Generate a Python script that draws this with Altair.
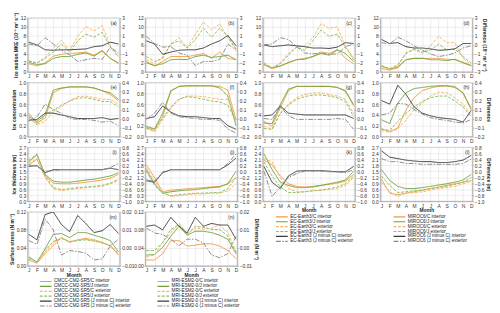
import altair as alt
import pandas as pd

MONTHS = ["J", "F", "M", "A", "M", "J", "J", "A", "S", "O", "N", "D"]
MODELS = ["CMCC-CM2-SR5", "MRI-ESM2-0", "EC-Earth3", "MIROC6"]
SUFFIXES = ["/C interior", "/J interior", "/C exterior", "/J exterior",
            " (J minus C) interior", " (J minus C) exterior"]
LETTERS = ["a", "b", "c", "d", "e", "f", "g", "h", "i", "j", "k", "l", "m", "n"]
LEFT_TITLES = ["Ice motion MKE (10⁻³ m² s⁻²)", "Ice concentration", "Ice thickness (m)", "Surface stress (N m⁻²)"]
RIGHT_TITLES = ["Difference (10⁻³ m² s⁻²)", "Difference", "Difference (m)", "Difference (N m⁻²)"]
LEFT_TICKS = [[0, 2, 4, 6, 8, 10, 12], [0.0, 0.2, 0.4, 0.6, 0.8, 1.0],
              [0.0, 0.3, 0.6, 0.9, 1.2, 1.5, 1.8, 2.1, 2.4, 2.7], [0.0, 0.04, 0.08, 0.12]]
RIGHT_TICKS = [[-3, -2, -1, 0, 1, 2, 3], [-0.2, -0.1, 0.0, 0.1, 0.2, 0.3, 0.4],
               [-1.0, -0.8, -0.6, -0.4, -0.2, 0.0, 0.2, 0.4, 0.6, 0.8], [-0.01, 0.0, 0.01, 0.02]]

# ---- panel (a) CMCC MKE
a_c_int = [1.8, 1.3, 2.0, 3.5, 3.9, 4.1, 4.2, 4.4, 3.7, 4.8, 3.0, 1.8]
a_j_int = [2.1, 1.6, 1.8, 3.0, 3.4, 3.4, 3.9, 4.2, 3.5, 4.6, 3.0, 2.0]
a_c_ext = [2.5, 2.0, 3.2, 5.3, 7.0, 4.8, 7.9, 10.1, 9.1, 10.3, 5.7, 3.4]
a_j_ext = [2.4, 1.9, 3.0, 4.4, 6.2, 4.4, 6.9, 8.4, 7.7, 8.8, 5.5, 3.4]
a_d_int = [0.3, 0.0, -0.55, -0.6, -0.55, -0.55, -0.5, -0.45, -0.2, -0.1, 0.3, 0.1]
a_d_ext = [0.1, -0.1, 0.8, 0.1, -0.6, -1.1, -1.85, -1.65, -1.5, -1.6, -0.25, -0.9]
# ---- panel (b) MRI MKE
b_c_int = [2.3, 1.3, 2.3, 3.4, 3.4, 3.4, 3.7, 4.1, 3.0, 4.4, 3.0, 2.7]
b_j_int = [2.0, 1.4, 1.8, 2.7, 2.8, 2.7, 3.4, 3.7, 3.2, 3.4, 3.7, 2.7]
b_c_ext = [2.7, 1.8, 3.4, 6.2, 7.6, 5.5, 8.3, 11.1, 9.3, 10.7, 7.6, 4.8]
b_j_ext = [3.4, 2.3, 3.0, 6.2, 6.9, 5.3, 7.2, 9.7, 7.7, 9.7, 7.9, 5.1]
b_d_int = [0.45, 0.1, -1.05, -0.8, -0.6, -0.55, -0.55, -0.35, 0.1, 0.45, 1.05, -0.1]
b_d_ext = [0.95, 0.15, -0.25, -0.2, -0.9, -1.15, -2.3, -1.85, -1.85, -1.6, 0.1, -0.6]
# ---- panel (c) EC-Earth MKE
c_c_int = [1.6, 0.7, 1.3, 2.0, 2.7, 3.0, 3.4, 4.4, 4.1, 4.9, 3.0, 1.8]
c_j_int = [1.6, 0.9, 1.3, 2.1, 2.7, 2.8, 3.4, 4.1, 3.7, 4.9, 4.1, 2.3]
c_c_ext = [1.6, 0.7, 2.0, 4.1, 5.5, 5.8, 7.6, 10.7, 9.7, 10.0, 5.8, 3.0]
c_j_ext = [2.0, 0.9, 1.8, 3.7, 5.5, 4.8, 6.9, 9.3, 7.9, 8.4, 5.5, 2.7]
c_d_int = [0.0, -0.2, -0.1, 0.0, -0.1, -0.2, -0.35, -0.35, -0.4, -0.25, 0.25, 0.15]
c_d_ext = [0.0, 0.1, 0.8, 0.6, -0.2, -0.9, -1.0, -0.9, -1.05, -1.0, -0.2, 0.1]
# ---- panel (d) MIROC MKE
d_c_int = [0.7, 0.4, 0.9, 2.7, 3.0, 3.0, 3.0, 3.0, 2.8, 2.7, 2.0, 1.3]
d_j_int = [1.3, 0.6, 1.1, 2.7, 3.0, 3.0, 2.7, 2.7, 2.5, 2.8, 2.1, 1.4]
d_c_ext = [0.9, 0.6, 1.3, 4.2, 4.9, 4.1, 5.8, 7.9, 6.5, 6.5, 3.0, 1.6]
d_j_ext = [1.4, 0.7, 1.6, 4.1, 5.1, 4.4, 4.8, 6.2, 4.9, 5.1, 3.4, 2.0]
d_d_int = [0.6, 0.15, 0.25, -0.2, -0.35, -0.35, -0.45, -0.6, -0.55, -0.45, 0.15, 0.15]
d_d_ext = [0.25, 0.1, 0.85, 0.45, -0.1, -0.6, -1.0, -1.3, -1.15, -0.9, -0.35, -0.1]
# ---- panel (e) CMCC concentration
e_c_int = [0.43, 0.25, 0.34, 0.81, 0.89, 0.92, 0.92, 0.92, 0.90, 0.85, 0.78, 0.66]
e_j_int = [0.37, 0.28, 0.40, 0.86, 0.90, 0.92, 0.92, 0.92, 0.90, 0.85, 0.81, 0.69]
e_c_ext = [0.40, 0.22, 0.28, 0.46, 0.55, 0.66, 0.74, 0.75, 0.72, 0.69, 0.69, 0.60]
e_j_ext = [0.34, 0.22, 0.40, 0.49, 0.58, 0.66, 0.71, 0.72, 0.69, 0.65, 0.65, 0.55]
e_d_int = [-0.02, -0.01, 0.06, 0.06, 0.04, 0.02, 0.0, 0.0, 0.0, 0.01, -0.01, 0.0]
e_d_ext = [-0.03, 0.02, 0.16, 0.10, 0.06, 0.0, -0.01, -0.01, -0.02, -0.04, -0.03, -0.08]
# ---- panel (f) MRI concentration
f_c_int = [0.16, 0.11, 0.37, 0.84, 0.93, 0.94, 0.94, 0.94, 0.94, 0.93, 0.86, 0.30]
f_j_int = [0.19, 0.14, 0.43, 0.85, 0.93, 0.94, 0.94, 0.94, 0.94, 0.90, 0.75, 0.20]
f_c_ext = [0.15, 0.08, 0.31, 0.52, 0.69, 0.75, 0.75, 0.74, 0.71, 0.69, 0.69, 0.31]
f_j_ext = [0.16, 0.14, 0.34, 0.55, 0.69, 0.74, 0.72, 0.69, 0.66, 0.64, 0.58, 0.28]
f_d_int = [0.0, 0.02, 0.14, 0.07, 0.03, 0.02, 0.02, 0.01, 0.0, 0.0, -0.08, -0.12]
f_d_ext = [-0.01, 0.06, 0.18, 0.06, 0.02, 0.01, 0.0, -0.01, -0.01, -0.02, -0.12, -0.16]
# ---- panel (g) EC-Earth concentration
g_c_int = [0.28, 0.19, 0.53, 0.85, 0.93, 0.93, 0.93, 0.93, 0.93, 0.91, 0.84, 0.57]
g_j_int = [0.25, 0.24, 0.59, 0.88, 0.93, 0.93, 0.93, 0.93, 0.93, 0.91, 0.85, 0.59]
g_c_ext = [0.19, 0.14, 0.43, 0.60, 0.72, 0.78, 0.81, 0.81, 0.78, 0.75, 0.69, 0.43]
g_j_ext = [0.15, 0.13, 0.43, 0.58, 0.69, 0.74, 0.77, 0.77, 0.75, 0.72, 0.65, 0.37]
g_d_int = [0.03, 0.04, 0.14, 0.06, 0.05, 0.04, 0.04, 0.04, 0.04, 0.04, 0.04, 0.0]
g_d_ext = [0.0, -0.01, 0.13, 0.03, -0.01, -0.01, -0.01, -0.01, -0.01, 0.0, -0.01, -0.12]
# ---- panel (h) MIROC concentration
h_c_int = [0.14, 0.09, 0.16, 0.49, 0.72, 0.85, 0.90, 0.93, 0.94, 0.93, 0.81, 0.49]
h_j_int = [0.31, 0.24, 0.62, 0.81, 0.89, 0.91, 0.93, 0.94, 0.94, 0.91, 0.81, 0.52]
h_c_ext = [0.11, 0.08, 0.14, 0.31, 0.49, 0.62, 0.75, 0.82, 0.81, 0.72, 0.60, 0.40]
h_j_ext = [0.14, 0.11, 0.28, 0.43, 0.55, 0.65, 0.72, 0.75, 0.75, 0.66, 0.55, 0.37]
h_d_int = [0.20, 0.16, 0.37, 0.27, 0.13, 0.06, 0.03, 0.01, 0.0, -0.01, -0.04, 0.09]
h_d_ext = [0.04, 0.06, 0.17, 0.16, 0.10, 0.05, 0.01, -0.01, -0.02, -0.04, -0.05, -0.01]
# ---- panel (i) CMCC thickness
i_c_int = [1.82, 2.10, 1.26, 0.90, 0.87, 0.87, 0.90, 0.95, 1.00, 1.06, 1.15, 1.34]
i_j_int = [1.97, 2.32, 1.34, 1.00, 0.95, 0.95, 1.00, 1.06, 1.10, 1.18, 1.26, 1.42]
i_c_ext = [1.90, 2.13, 1.18, 0.63, 0.52, 0.58, 0.63, 0.68, 0.71, 0.74, 0.87, 1.03]
i_j_ext = [2.05, 2.37, 1.26, 0.68, 0.58, 0.63, 0.68, 0.71, 0.74, 0.79, 0.90, 1.10]
i_d_int = [0.16, 0.19, -0.05, 0.05, 0.05, 0.05, 0.05, 0.05, 0.05, 0.05, 0.10, 0.05]
i_d_ext = [0.21, 0.16, 0.0, 0.02, 0.05, 0.05, 0.05, 0.05, 0.05, 0.05, 0.12, 0.26]
# ---- panel (j) MRI thickness
j_c_int = [1.82, 1.18, 0.47, 0.55, 0.58, 0.62, 0.65, 0.68, 0.71, 0.74, 0.87, 1.18]
j_j_int = [1.58, 0.87, 0.40, 0.47, 0.52, 0.55, 0.58, 0.63, 0.68, 0.71, 0.87, 1.50]
j_c_ext = [1.66, 1.03, 0.43, 0.24, 0.27, 0.32, 0.36, 0.36, 0.40, 0.40, 0.52, 0.87]
j_j_ext = [1.50, 0.79, 0.40, 0.27, 0.32, 0.36, 0.40, 0.40, 0.43, 0.43, 0.63, 1.18]
j_d_int = [-0.32, -0.37, -0.05, 0.05, 0.05, 0.05, 0.05, 0.05, 0.05, 0.05, 0.21, 0.44]
j_d_ext = [-0.29, -0.34, -0.02, 0.05, 0.05, 0.05, 0.05, 0.05, 0.05, 0.05, 0.26, 0.58]
# ---- panel (k) EC-Earth thickness
k_c_int = [2.05, 1.82, 1.26, 0.87, 0.74, 0.71, 0.74, 0.79, 0.84, 0.90, 1.00, 1.34]
k_j_int = [2.37, 1.58, 0.95, 0.79, 0.68, 0.68, 0.71, 0.79, 0.87, 0.95, 1.06, 1.50]
k_c_ext = [2.13, 1.97, 1.18, 0.63, 0.47, 0.47, 0.52, 0.55, 0.58, 0.63, 0.79, 1.18]
k_j_ext = [1.97, 1.26, 0.71, 0.43, 0.43, 0.47, 0.52, 0.55, 0.63, 0.71, 0.87, 1.26]
k_d_int = [0.16, -0.37, -0.58, -0.16, 0.0, 0.02, 0.02, 0.02, 0.0, -0.02, -0.02, 0.16]
k_d_ext = [0.0, -0.84, -0.53, -0.21, -0.08, 0.0, 0.0, 0.0, -0.02, -0.02, -0.05, 0.05]
# ---- panel (l) MIROC thickness
l_c_int = [1.10, 0.40, 0.32, 0.40, 0.47, 0.55, 0.63, 0.71, 0.79, 0.87, 0.95, 1.03]
l_j_int = [1.58, 1.03, 0.74, 0.63, 0.63, 0.68, 0.74, 0.81, 0.87, 0.95, 1.06, 1.34]
l_c_ext = [0.95, 0.47, 0.24, 0.40, 0.43, 0.47, 0.55, 0.63, 0.68, 0.74, 0.87, 1.00]
l_j_ext = [1.26, 0.79, 0.43, 0.47, 0.52, 0.55, 0.63, 0.68, 0.74, 0.84, 0.95, 1.18]
l_d_int = [0.68, 0.47, 0.42, 0.37, 0.34, 0.32, 0.32, 0.29, 0.29, 0.32, 0.37, 0.53]
l_d_ext = [0.42, 0.32, 0.32, 0.26, 0.26, 0.23, 0.23, 0.23, 0.23, 0.23, 0.26, 0.40]
# ---- panel (m) CMCC surface stress
m_c_int = [0.013, 0.006, 0.027, 0.045, 0.063, 0.052, 0.058, 0.061, 0.058, 0.052, 0.045, 0.024]
m_j_int = [0.020, 0.008, 0.038, 0.070, 0.072, 0.063, 0.074, 0.074, 0.068, 0.063, 0.056, 0.031]
m_c_ext = [0.015, 0.006, 0.031, 0.051, 0.063, 0.054, 0.058, 0.059, 0.056, 0.052, 0.044, 0.024]
m_j_ext = [0.018, 0.009, 0.034, 0.054, 0.061, 0.054, 0.056, 0.058, 0.055, 0.051, 0.045, 0.027]
m_d_int = [0.0075, 0.0045, 0.0185, 0.020, 0.013, 0.009, 0.018, 0.0135, 0.0085, 0.0095, 0.013, 0.008]
m_d_ext = [0.004, 0.002, 0.016, 0.010, -0.004, -0.0015, -0.002, -0.003, -0.0067, -0.0062, 0.0012, 0.0048]
# ---- panel (n) MRI surface stress
n_c_int = [0.013, 0.013, 0.027, 0.056, 0.056, 0.044, 0.046, 0.049, 0.049, 0.044, 0.034, 0.016]
n_j_int = [0.024, 0.025, 0.041, 0.066, 0.088, 0.068, 0.077, 0.077, 0.074, 0.068, 0.059, 0.027]
n_c_ext = [0.020, 0.024, 0.052, 0.074, 0.095, 0.070, 0.084, 0.082, 0.084, 0.091, 0.074, 0.031]
n_j_ext = [0.034, 0.034, 0.052, 0.081, 0.091, 0.070, 0.088, 0.086, 0.081, 0.081, 0.066, 0.029]
n_d_int = [0.012, 0.0127, 0.010, 0.017, 0.012, 0.0083, 0.017, 0.012, 0.0136, 0.0127, 0.0127, 0.0048]
n_d_ext = [0.011, 0.0083, 0.0074, 0.0048, 0.0012, 0.0048, 0.0048, 0.0027, -0.004, -0.0055, -0.0032, 0.0065]

PANEL_DATA = [
    [a_c_int, a_j_int, a_c_ext, a_j_ext, a_d_int, a_d_ext],
    [b_c_int, b_j_int, b_c_ext, b_j_ext, b_d_int, b_d_ext],
    [c_c_int, c_j_int, c_c_ext, c_j_ext, c_d_int, c_d_ext],
    [d_c_int, d_j_int, d_c_ext, d_j_ext, d_d_int, d_d_ext],
    [e_c_int, e_j_int, e_c_ext, e_j_ext, e_d_int, e_d_ext],
    [f_c_int, f_j_int, f_c_ext, f_j_ext, f_d_int, f_d_ext],
    [g_c_int, g_j_int, g_c_ext, g_j_ext, g_d_int, g_d_ext],
    [h_c_int, h_j_int, h_c_ext, h_j_ext, h_d_int, h_d_ext],
    [i_c_int, i_j_int, i_c_ext, i_j_ext, i_d_int, i_d_ext],
    [j_c_int, j_j_int, j_c_ext, j_j_ext, j_d_int, j_d_ext],
    [k_c_int, k_j_int, k_c_ext, k_j_ext, k_d_int, k_d_ext],
    [l_c_int, l_j_int, l_c_ext, l_j_ext, l_d_int, l_d_ext],
    [m_c_int, m_j_int, m_c_ext, m_j_ext, m_d_int, m_d_ext],
    [n_c_int, n_j_int, n_c_ext, n_j_ext, n_d_int, n_d_ext],
]

# ---- styles
COLORS = ["#f39a3a", "#6ea33c", "#fbb46c", "#8fc05e", "#3a3a3a", "#8c8c8c"]
DASHES = [[1, 0], [1, 0], [3, 1.5], [3, 1.5], [1, 0], [5, 1.5, 1.5, 1.5]]
LEFT_FMT = ["d", ".1f", ".1f", ".2f"]
RIGHT_FMT = ["d", ".1f", ".1f", ".2f"]
W, H = 94, 55
LABEL_EXPR = "[" + ",".join("'%s'" % m for m in MONTHS) + "][datum.value - 1]"
LEGEND_POS = {"k": (17, 68.5), "l": (17, 68.5), "m": (16, 68.5), "n": (16, 68.5)}


def make_panel(idx):
    row, col = divmod(idx, 4)
    letter = LETTERS[idx]
    names = [MODELS[col] + s for s in SUFFIXES]
    series = PANEL_DATA[idx]
    left_rows, right_rows = [], []
    for k, vals in enumerate(series):
        for i, v in enumerate(vals):
            rec = {"month": i + 1, "value": v, "series": names[k]}
            (left_rows if k < 4 else right_rows).append(rec)
    if letter in LEGEND_POS:
        lx, ly = LEGEND_POS[letter]
        leg = alt.Legend(title=None, orient="none", legendX=lx, legendY=ly,
                         direction="vertical", labelFontSize=4.7, symbolType="M-4,0H4",
                         symbolSize=9, symbolStrokeWidth=1.2, rowPadding=-1.1,
                         labelOffset=6, labelLimit=300, labelColor="#222")
    else:
        leg = None
    color = alt.Color("series:N", scale=alt.Scale(domain=names, range=COLORS), legend=leg)
    dash = alt.StrokeDash("series:N", scale=alt.Scale(domain=names, range=DASHES), legend=leg)
    x = alt.X("month:Q", scale=alt.Scale(domain=[0.85, 12.15], nice=False),
              axis=alt.Axis(values=list(range(1, 13)), labelExpr=LABEL_EXPR, grid=True,
                            tickSize=1, labelPadding=1, titlePadding=0),
              title="Month" if letter in ("k", "l", "m", "n") else None)
    lt = LEFT_TICKS[row]
    rt = RIGHT_TICKS[row]
    yl = alt.Y("value:Q", scale=alt.Scale(domain=[lt[0], lt[-1]], nice=False, zero=False),
               axis=alt.Axis(values=lt, format=LEFT_FMT[row], grid=True, tickSize=1.5, labelPadding=0.5),
               title=LEFT_TITLES[row] if col == 0 else None)
    show_rt = (col == 3) or (letter == "n")
    yr = alt.Y("value:Q", scale=alt.Scale(domain=[rt[0], rt[-1]], nice=False, zero=False),
               axis=alt.Axis(values=rt, format=RIGHT_FMT[row], grid=False, orient="right",
                             tickSize=1.5, labelPadding=0.5),
               title=RIGHT_TITLES[row] if show_rt else None)
    left = alt.Chart(pd.DataFrame(left_rows)).mark_line(strokeWidth=1, clip=True).encode(
        x=x, y=yl, color=color, strokeDash=dash)
    right = alt.Chart(pd.DataFrame(right_rows)).mark_line(strokeWidth=1, clip=True).encode(
        x=x, y=yr, color=color, strokeDash=dash)
    lab = alt.Chart(pd.DataFrame({"t": ["(%s)" % letter]})).mark_text(
        align="right", baseline="top", fontSize=5, color="#222").encode(
        x=alt.value(W - 3), y=alt.value(3), text="t:N")
    return alt.layer(left, right, lab).resolve_scale(y="independent").properties(width=W, height=H)


panels = [make_panel(i) for i in range(14)]

chart = alt.concat(*panels, columns=4, spacing={"row": 11, "column": 26}, bounds="flush").resolve_scale(
    x="independent", y="independent", color="independent", strokeDash="independent"
).resolve_legend(color="independent", strokeDash="independent").properties(
    padding={"left": 0, "top": 0, "right": 0, "bottom": 0}
).configure(font="Liberation Sans").configure_view(
    stroke="#a8a8a8", strokeWidth=0.6
).configure_axis(
    labelFontSize=5, titleFontSize=5, tickSize=2, labelPadding=1, titlePadding=2,
    gridColor="#dcdcdc", gridWidth=0.5, domainColor="#999999", domainWidth=0.6,
    tickColor="#999999", tickWidth=0.5, labelColor="#333333", titleColor="#222222"
)

chart.save("out.html", embed_options={"renderer": "svg", "actions": False})
